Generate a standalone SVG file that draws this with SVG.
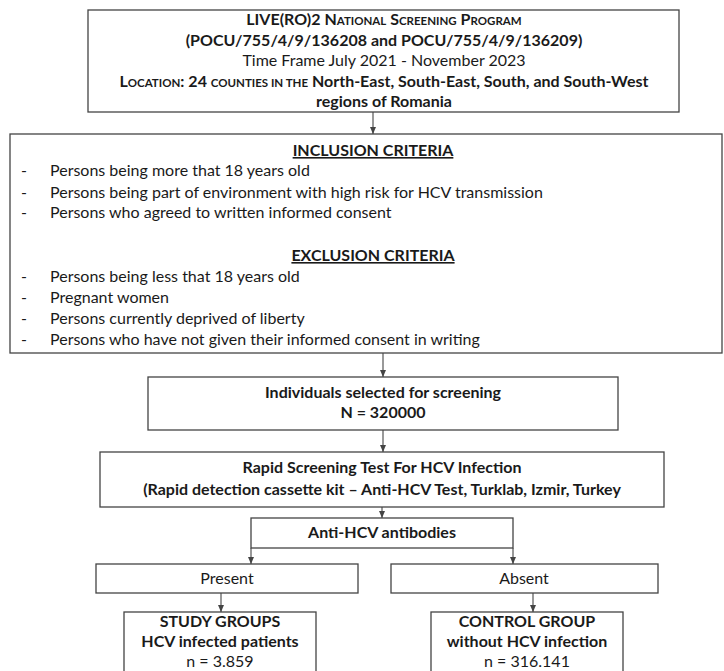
<svg xmlns="http://www.w3.org/2000/svg" width="724" height="671" viewBox="0 0 724 671">
<style>
.box{fill:#fff;stroke:#444;stroke-width:1.3}
.t{font-family:Lato,"Open Sans","Liberation Sans",sans-serif;fill:#1a1a1a;font-size:16px}
.b{font-weight:bold}
.c{text-anchor:middle}
.sc{font-size:11.5px}
.con{stroke:#555;stroke-width:1.2;fill:none;marker-end:url(#ah)}
</style>
<defs>
<marker id="ah" markerWidth="8" markerHeight="8" refX="7" refY="4" orient="auto" markerUnits="userSpaceOnUse">
<path d="M0,1 L7,4 L0,7 z" fill="#444"/>
</marker>
</defs>
<rect width="724" height="671" fill="#fff"/>
<g id="connectors">
<line class="con" x1="373" y1="112" x2="373" y2="134"/>
<line class="con" x1="383" y1="353" x2="383" y2="377"/>
<line class="con" x1="383" y1="430" x2="383" y2="452"/>
<line class="con" x1="382" y1="507" x2="382" y2="518"/>
<line class="con" x1="251" y1="548" x2="251" y2="564"/>
<line class="con" x1="513" y1="548" x2="513" y2="564"/>
<line class="con" x1="221" y1="593" x2="221" y2="612"/>
<line class="con" x1="533" y1="593" x2="533" y2="612"/>
</g>
<g id="program">
<rect class="box" x="88" y="10" width="591" height="102"/>
<text class="t b c" x="384" y="25">LIVE(RO)2 N<tspan class="sc">ATIONAL</tspan> S<tspan class="sc">CREENING</tspan> P<tspan class="sc">ROGRAM</tspan></text>
<text class="t b c" x="384" y="46">(POCU/755/4/9/136208 and POCU/755/4/9/136209)</text>
<text class="t c" x="384" y="66">Time Frame July 2021 - November 2023</text>
<text class="t b c" x="384" y="87">L<tspan class="sc">OCATION</tspan>: 24 <tspan class="sc">COUNTIES IN THE</tspan> North-East, South-East, South, and South-West</text>
<text class="t b c" x="384" y="107">regions of Romania</text>
</g>
<g id="criteria">
<rect class="box" x="10" y="134" width="712" height="219"/>
<text class="t b c" x="373" y="156" text-decoration="underline">INCLUSION CRITERIA</text>
<text class="t" x="21" y="176">-</text><text class="t" x="50" y="176">Persons being more that 18 years old</text>
<text class="t" x="21" y="198">-</text><text class="t" x="50" y="198">Persons being part of environment with high risk for HCV transmission</text>
<text class="t" x="21" y="218">-</text><text class="t" x="50" y="218">Persons who agreed to written informed consent</text>
<text class="t b c" x="373" y="261" text-decoration="underline">EXCLUSION CRITERIA</text>
<text class="t" x="21" y="282">-</text><text class="t" x="50" y="282">Persons being less that 18 years old</text>
<text class="t" x="21" y="303">-</text><text class="t" x="50" y="303">Pregnant women</text>
<text class="t" x="21" y="324">-</text><text class="t" x="50" y="324">Persons currently deprived of liberty</text>
<text class="t" x="21" y="345">-</text><text class="t" x="50" y="345">Persons who have not given their informed consent in writing</text>
</g>
<g id="selected">
<rect class="box" x="148" y="377" width="470" height="53"/>
<text class="t b c" x="383" y="398">Individuals selected for screening</text>
<text class="t b c" x="383" y="418">N = 320000</text>
</g>
<g id="rapid">
<rect class="box" x="100" y="452" width="564" height="55"/>
<text class="t b c" x="382" y="473">Rapid Screening Test For HCV Infection</text>
<text class="t b c" x="382" y="495">(Rapid detection cassette kit – Anti-HCV Test, Turklab, Izmir, Turkey</text>
</g>
<g id="antibodies">
<rect class="box" x="251" y="518" width="262" height="30"/>
<text class="t b c" x="382" y="538">Anti-HCV antibodies</text>
</g>
<g id="present">
<rect class="box" x="96" y="564" width="262" height="29"/>
<text class="t c" x="227" y="584">Present</text>
</g>
<g id="absent">
<rect class="box" x="391" y="564" width="267" height="29"/>
<text class="t c" x="524" y="584">Absent</text>
</g>
<g id="study">
<rect class="box" x="124" y="612" width="192" height="62"/>
<text class="t b c" x="220" y="627">STUDY GROUPS</text>
<text class="t b c" x="220" y="647">HCV infected patients</text>
<text class="t c" x="220" y="667">n = 3.859</text>
</g>
<g id="control">
<rect class="box" x="431" y="612" width="192" height="62"/>
<text class="t b c" x="527" y="627">CONTROL GROUP</text>
<text class="t b c" x="527" y="647">without HCV infection</text>
<text class="t c" x="527" y="667">n = 316.141</text>
</g>
</svg>
